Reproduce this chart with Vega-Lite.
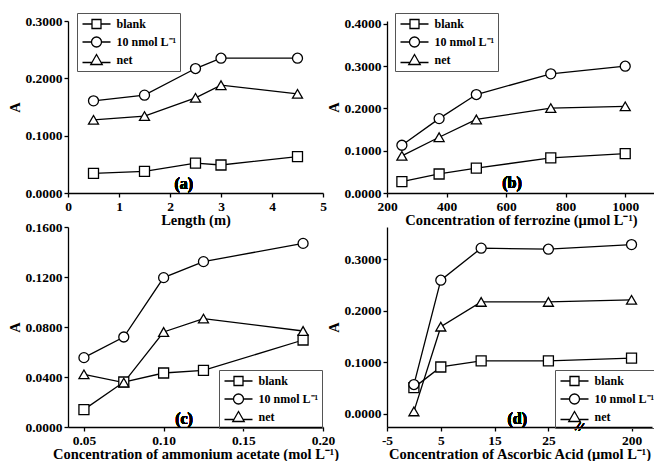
{
  "$schema": "https://vega.github.io/schema/vega-lite/v6.json",
  "background": "white",
  "autosize": {"type": "pad"},
  "padding": {"left": 7, "top": 12, "right": 0, "bottom": 0},
  "datasets": {
    "a": [
      {"x": 0.5, "y": 0.0342, "s": "blank"},
      {"x": 1.5, "y": 0.0377, "s": "blank"},
      {"x": 2.5, "y": 0.0522, "s": "blank"},
      {"x": 3.0, "y": 0.0488, "s": "blank"},
      {"x": 4.5, "y": 0.0633, "s": "blank"},
      {"x": 0.5, "y": 0.1608, "s": "10 nmol L⁻¹"},
      {"x": 1.5, "y": 0.1706, "s": "10 nmol L⁻¹"},
      {"x": 2.5, "y": 0.2171, "s": "10 nmol L⁻¹"},
      {"x": 3.0, "y": 0.2351, "s": "10 nmol L⁻¹"},
      {"x": 4.5, "y": 0.2351, "s": "10 nmol L⁻¹"},
      {"x": 0.5, "y": 0.1277, "s": "net"},
      {"x": 1.5, "y": 0.1341, "s": "net"},
      {"x": 2.5, "y": 0.1660, "s": "net"},
      {"x": 3.0, "y": 0.1880, "s": "net"},
      {"x": 4.5, "y": 0.1730, "s": "net"}
    ],
    "b": [
      {"x": 250, "y": 0.0268, "s": "blank"},
      {"x": 375, "y": 0.0450, "s": "blank"},
      {"x": 500, "y": 0.0590, "s": "blank"},
      {"x": 750, "y": 0.0830, "s": "blank"},
      {"x": 1000, "y": 0.0930, "s": "blank"},
      {"x": 250, "y": 0.1130, "s": "10 nmol L⁻¹"},
      {"x": 375, "y": 0.1760, "s": "10 nmol L⁻¹"},
      {"x": 500, "y": 0.2330, "s": "10 nmol L⁻¹"},
      {"x": 750, "y": 0.2820, "s": "10 nmol L⁻¹"},
      {"x": 1000, "y": 0.3000, "s": "10 nmol L⁻¹"},
      {"x": 250, "y": 0.0880, "s": "net"},
      {"x": 375, "y": 0.1320, "s": "net"},
      {"x": 500, "y": 0.1740, "s": "net"},
      {"x": 750, "y": 0.2010, "s": "net"},
      {"x": 1000, "y": 0.2050, "s": "net"}
    ],
    "c": [
      {"x": 0.05, "y": 0.0139, "s": "blank"},
      {"x": 0.075, "y": 0.0360, "s": "blank"},
      {"x": 0.10, "y": 0.0432, "s": "blank"},
      {"x": 0.125, "y": 0.0453, "s": "blank"},
      {"x": 0.1875, "y": 0.0696, "s": "blank"},
      {"x": 0.05, "y": 0.0555, "s": "10 nmol L⁻¹"},
      {"x": 0.075, "y": 0.0720, "s": "10 nmol L⁻¹"},
      {"x": 0.10, "y": 0.1195, "s": "10 nmol L⁻¹"},
      {"x": 0.125, "y": 0.1323, "s": "10 nmol L⁻¹"},
      {"x": 0.1875, "y": 0.1469, "s": "10 nmol L⁻¹"},
      {"x": 0.05, "y": 0.0421, "s": "net"},
      {"x": 0.075, "y": 0.0355, "s": "net"},
      {"x": 0.10, "y": 0.0760, "s": "net"},
      {"x": 0.125, "y": 0.0867, "s": "net"},
      {"x": 0.1875, "y": 0.0768, "s": "net"}
    ],
    "d": [
      {"x": 0, "y": 0.0510, "s": "blank"},
      {"x": 5, "y": 0.0910, "s": "blank"},
      {"x": 12.5, "y": 0.1030, "s": "blank"},
      {"x": 25, "y": 0.1030, "s": "blank"},
      {"x": 200, "y": 0.1080, "s": "blank"},
      {"x": 0, "y": 0.0570, "s": "10 nmol L⁻¹"},
      {"x": 5, "y": 0.2590, "s": "10 nmol L⁻¹"},
      {"x": 12.5, "y": 0.3210, "s": "10 nmol L⁻¹"},
      {"x": 25, "y": 0.3190, "s": "10 nmol L⁻¹"},
      {"x": 200, "y": 0.3280, "s": "10 nmol L⁻¹"},
      {"x": 0, "y": 0.0050, "s": "net"},
      {"x": 5, "y": 0.1690, "s": "net"},
      {"x": 12.5, "y": 0.2170, "s": "net"},
      {"x": 25, "y": 0.2170, "s": "net"},
      {"x": 200, "y": 0.2210, "s": "net"}
    ]
  },
  "columns": 2,
  "bounds": "flush",
  "spacing": {"row": 34, "column": 64},
  "concat": [
    {
      "width": 255, "height": 172,
      "data": {"name": "a"},
      "layer": [
        {"mark": {"type": "line", "stroke": "black", "strokeWidth": 1.3},
         "encoding": {
           "x": {"field": "x", "type": "quantitative", "scale": {"domain": [0, 5], "nice": false, "zero": false}, "axis": {"title": "Length (m)", "values": [0, 1, 2, 3, 4, 5], "format": "d"}},
           "y": {"field": "y", "type": "quantitative", "scale": {"domain": [0, 0.3], "nice": false}, "axis": {"title": "A", "values": [0, 0.1, 0.2, 0.3], "format": ".4f"}},
           "detail": {"field": "s"}}},
        {"mark": {"type": "point", "filled": true, "fill": "white", "stroke": "black", "strokeWidth": 1.3, "opacity": 1, "size": 100},
         "encoding": {
           "x": {"field": "x", "type": "quantitative"},
           "y": {"field": "y", "type": "quantitative"},
           "shape": {"field": "s", "scale": {"domain": ["blank", "10 nmol L⁻¹", "net"], "range": ["square", "circle", "triangle-up"]}, "legend": null}}},
        {"mark": {"type": "point", "filled": false, "color": "black"},
         "encoding": {
           "x": {"field": "x", "type": "quantitative"},
           "y": {"field": "hidden", "type": "quantitative"},
           "shape": {"field": "s", "scale": {"domain": ["blank", "10 nmol L⁻¹", "net"], "range": ["M-2.8,0H-0.9M0.9,0H2.8M-0.9,-0.9H0.9V0.9H-0.9Z", "M-2.8,0H-1M1,0H2.8M-1,0A1,1 0 1,0 1,0A1,1 0 1,0 -1,0Z", "M-2.8,0.5H-0.8M0.8,0.5H2.8M0,-1.1L1.15,0.9H-1.15Z"]},
             "legend": {"legendX": 9, "legendY": -8, "symbolFillColor": "white", "symbolStrokeColor": "black"}}}},
        {"mark": {"type": "text", "fontSize": 16, "fontWeight": "bold", "baseline": "middle"},
         "encoding": {"x": {"datum": 2.27, "type": "quantitative"}, "y": {"datum": 0.016, "type": "quantitative"}, "text": {"value": "(a)"}}}
      ],
      "resolve": {"scale": {"shape": "independent"}, "legend": {"shape": "independent"}}
    },
    {
      "width": 268, "height": 172,
      "data": {"name": "b"},
      "layer": [
        {"mark": {"type": "line", "stroke": "black", "strokeWidth": 1.3},
         "encoding": {
           "x": {"field": "x", "type": "quantitative", "scale": {"domain": [200, 1100], "nice": false, "zero": false}, "axis": {"title": "Concentration of ferrozine (μmol L⁻¹)", "values": [200, 400, 600, 800, 1000], "format": "d"}},
           "y": {"field": "y", "type": "quantitative", "scale": {"domain": [0, 0.407], "nice": false}, "axis": {"title": "A", "values": [0, 0.1, 0.2, 0.3, 0.4], "format": ".4f"}},
           "detail": {"field": "s"}}},
        {"mark": {"type": "point", "filled": true, "fill": "white", "stroke": "black", "strokeWidth": 1.3, "opacity": 1, "size": 100},
         "encoding": {
           "x": {"field": "x", "type": "quantitative"},
           "y": {"field": "y", "type": "quantitative"},
           "shape": {"field": "s", "scale": {"domain": ["blank", "10 nmol L⁻¹", "net"], "range": ["square", "circle", "triangle-up"]}, "legend": null}}},
        {"mark": {"type": "point", "filled": false, "color": "black"},
         "encoding": {
           "x": {"field": "x", "type": "quantitative"},
           "y": {"field": "hidden", "type": "quantitative"},
           "shape": {"field": "s", "scale": {"domain": ["blank", "10 nmol L⁻¹", "net"], "range": ["M-2.8,0H-0.9M0.9,0H2.8M-0.9,-0.9H0.9V0.9H-0.9Z", "M-2.8,0H-1M1,0H2.8M-1,0A1,1 0 1,0 1,0A1,1 0 1,0 -1,0Z", "M-2.8,0.5H-0.8M0.8,0.5H2.8M0,-1.1L1.15,0.9H-1.15Z"]},
             "legend": {"legendX": 8, "legendY": -8, "symbolFillColor": "white", "symbolStrokeColor": "black"}}}},
        {"mark": {"type": "text", "fontSize": 16, "fontWeight": "bold", "baseline": "middle"},
         "encoding": {"x": {"datum": 620, "type": "quantitative"}, "y": {"datum": 0.0237, "type": "quantitative"}, "text": {"value": "(b)"}}}
      ],
      "resolve": {"scale": {"shape": "independent"}, "legend": {"shape": "independent"}}
    },
    {
      "width": 255, "height": 200,
      "data": {"name": "c"},
      "layer": [
        {"mark": {"type": "line", "stroke": "black", "strokeWidth": 1.3},
         "encoding": {
           "x": {"field": "x", "type": "quantitative", "scale": {"domain": [0.04, 0.2], "nice": false, "zero": false}, "axis": {"title": "Concentration of ammonium acetate (mol L⁻¹)", "values": [0.05, 0.1, 0.15, 0.2], "format": ".2f"}},
           "y": {"field": "y", "type": "quantitative", "scale": {"domain": [0, 0.16], "nice": false}, "axis": {"title": "A", "values": [0, 0.04, 0.08, 0.12, 0.16], "format": ".4f"}},
           "detail": {"field": "s"}}},
        {"mark": {"type": "point", "filled": true, "fill": "white", "stroke": "black", "strokeWidth": 1.3, "opacity": 1, "size": 100},
         "encoding": {
           "x": {"field": "x", "type": "quantitative"},
           "y": {"field": "y", "type": "quantitative"},
           "shape": {"field": "s", "scale": {"domain": ["blank", "10 nmol L⁻¹", "net"], "range": ["square", "circle", "triangle-up"]}, "legend": null}}},
        {"mark": {"type": "point", "filled": false, "color": "black"},
         "encoding": {
           "x": {"field": "x", "type": "quantitative"},
           "y": {"field": "hidden", "type": "quantitative"},
           "shape": {"field": "s", "scale": {"domain": ["blank", "10 nmol L⁻¹", "net"], "range": ["M-2.8,0H-0.9M0.9,0H2.8M-0.9,-0.9H0.9V0.9H-0.9Z", "M-2.8,0H-1M1,0H2.8M-1,0A1,1 0 1,0 1,0A1,1 0 1,0 -1,0Z", "M-2.8,0.5H-0.8M0.8,0.5H2.8M0,-1.1L1.15,0.9H-1.15Z"]},
             "legend": {"legendX": 151, "legendY": 143, "symbolFillColor": "white", "symbolStrokeColor": "black"}}}},
        {"mark": {"type": "text", "fontSize": 16, "fontWeight": "bold", "baseline": "middle"},
         "encoding": {"x": {"datum": 0.1128, "type": "quantitative"}, "y": {"datum": 0.0064, "type": "quantitative"}, "text": {"value": "(c)"}}}
      ],
      "resolve": {"scale": {"shape": "independent"}, "legend": {"shape": "independent"}}
    },
    {
      "width": 265, "height": 200,
      "data": {"name": "d"},
      "layer": [
        {"mark": {"type": "line", "stroke": "black", "strokeWidth": 1.3},
         "encoding": {
           "x": {"field": "x", "type": "quantitative", "scale": {"domain": [-5, 30.5, 183.5, 207.5], "range": [0, 191, 199.5, 265], "nice": false, "zero": false}, "axis": {"title": "Concentration of Ascorbic Acid (μmol L⁻¹)", "values": [-5, 0, 5, 10, 15, 20, 25, 190, 200], "format": "d", "labelExpr": "replace(datum.label, '−', '-')"}},
           "y": {"field": "y", "type": "quantitative", "scale": {"domain": [-0.0252, 0.362], "nice": false, "zero": false}, "axis": {"title": "A", "values": [0, 0.1, 0.2, 0.3], "format": ".4f"}},
           "detail": {"field": "s"}}},
        {"mark": {"type": "point", "filled": true, "fill": "white", "stroke": "black", "strokeWidth": 1.3, "opacity": 1, "size": 100},
         "encoding": {
           "x": {"field": "x", "type": "quantitative"},
           "y": {"field": "y", "type": "quantitative"},
           "shape": {"field": "s", "scale": {"domain": ["blank", "10 nmol L⁻¹", "net"], "range": ["square", "circle", "triangle-up"]}, "legend": null}}},
        {"mark": {"type": "point", "filled": false, "color": "black"},
         "encoding": {
           "x": {"field": "x", "type": "quantitative"},
           "y": {"field": "hidden", "type": "quantitative"},
           "shape": {"field": "s", "scale": {"domain": ["blank", "10 nmol L⁻¹", "net"], "range": ["M-2.8,0H-0.9M0.9,0H2.8M-0.9,-0.9H0.9V0.9H-0.9Z", "M-2.8,0H-1M1,0H2.8M-1,0A1,1 0 1,0 1,0A1,1 0 1,0 -1,0Z", "M-2.8,0.5H-0.8M0.8,0.5H2.8M0,-1.1L1.15,0.9H-1.15Z"]},
             "legend": {"legendX": 168, "legendY": 143, "symbolFillColor": "white", "symbolStrokeColor": "black"}}}},
        {"mark": {"type": "text", "fontSize": 16, "fontWeight": "bold", "baseline": "middle"},
         "encoding": {"x": {"datum": 19.2, "type": "quantitative"}, "y": {"datum": -0.0097, "type": "quantitative"}, "text": {"value": "(d)"}}},
        {"mark": {"type": "text", "fontSize": 13, "fontWeight": "bold", "baseline": "middle", "angle": 15},
         "encoding": {"x": {"datum": 60, "type": "quantitative"}, "y": {"datum": -0.0252, "type": "quantitative"}, "text": {"value": "//"}}}
      ],
      "resolve": {"scale": {"shape": "independent"}, "legend": {"shape": "independent"}}
    }
  ],
  "config": {
    "font": "Liberation Serif, Times New Roman, serif",
    "view": {"stroke": null},
    "text": {"font": "Liberation Serif, Times New Roman, serif", "color": "black"},
    "axis": {
      "domainColor": "black", "domainWidth": 1.3,
      "tickColor": "black", "tickWidth": 1.3, "tickSize": 4,
      "labelFont": "Liberation Serif, Times New Roman, serif", "labelFontWeight": "bold", "labelFontSize": 13.5, "labelColor": "black", "labelPadding": 2,
      "labelFlush": false, "labelOverlap": false,
      "titleFont": "Liberation Serif, Times New Roman, serif", "titleFontWeight": "bold", "titleFontSize": 14.5, "titleColor": "black",
      "grid": false
    },
    "axisX": {"titlePadding": 1},
    "axisY": {"titlePadding": 2},
    "legend": {
      "title": null, "orient": "none",
      "labelFont": "Liberation Serif, Times New Roman, serif", "labelFontWeight": "bold", "labelFontSize": 12, "labelColor": "black", "labelLimit": 200,
      "symbolSize": 100, "symbolStrokeWidth": 1.3, "symbolStrokeColor": "black", "symbolFillColor": "white", "symbolOpacity": 1,
      "strokeColor": "#555", "padding": 3.5, "rowPadding": 3, "clipHeight": 15,
      "symbolOffset": 10, "labelOffset": 14
    }
  }
}
